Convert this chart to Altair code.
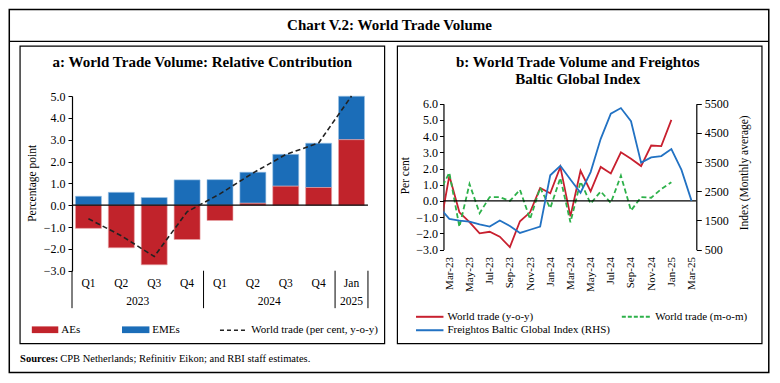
import altair as alt
import pandas as pd

# ---------------- data ----------------
# Panel a: World Trade Volume: Relative Contribution (percentage point)
quarters = ["Q1", "Q2", "Q3", "Q4", "Q1", "Q2", "Q3", "Q4", "Jan"]
quarter_year = ["2023", "2023", "2023", "2023", "2024", "2024", "2024", "2024", "2025"]
aes = [-1.06, -1.95, -2.73, -1.57, -0.70, 0.09, 0.87, 0.81, 3.00]
emes = [0.41, 0.59, 0.35, 1.16, 1.17, 1.42, 1.46, 2.03, 1.99]
world_yoy_q = [-0.62, -1.40, -2.35, -0.30, 0.52, 1.47, 2.32, 2.85, 5.00]

# Panel b: World trade volume (per cent) and Freightos Baltic Global Index
months = ["Feb-23", "Mar-23", "Apr-23", "May-23", "Jun-23", "Jul-23", "Aug-23",
          "Sep-23", "Oct-23", "Nov-23", "Dec-23", "Jan-24", "Feb-24", "Mar-24",
          "Apr-24", "May-24", "Jun-24", "Jul-24", "Aug-24", "Sep-24", "Oct-24",
          "Nov-24", "Dec-24", "Jan-25", "Feb-25", "Mar-25"]
wt_yoy = [-1.90, 1.55, -0.70, -1.30, -2.00, -1.90, -2.20, -2.85, -1.25, -0.70,
          0.80, 0.47, 2.10, -0.95, 1.86, 0.59, 2.10, 1.70, 3.00, 2.60, 2.15,
          3.42, 3.38, 5.00]
wt_mom = [0.50, 1.75, -1.60, 1.05, -0.75, 0.24, 0.24, 0.00, 0.69, -1.12, 0.82,
          -0.45, 1.42, -1.32, 1.19, -0.16, 0.59, -0.12, 1.56, -0.59, 0.24, 0.20,
          0.73, 1.15]
fbx = [1950, 1550, 1495, 1455, 1365, 1290, 1495, 1310, 1070, 1180, 1290, 3045,
       3373, 2900, 2450, 3155, 4295, 5155, 5350, 4900, 3480, 3660, 3705, 3945,
       3230, 2170]

# ---------------- styling / layout ----------------
FONT = "Liberation Serif"
RED = "#C1232B"
BLUE = "#1B6DB8"
LRED = "#C8202F"
LBLUE = "#2272C3"
GREEN = "#2DB14A"
TICK_FS = 12
SX, SY = 0.98, 0.96


def X(x):
    return SX * x


def Y(y):
    return SY * y


# plot areas (reference pixel coords)
A_L, A_R, A_T, A_B = 66, 368, 92, 274
B_L, B_R, B_T, B_B = 445, 703, 100, 252
W1 = X(A_R) - X(A_L)
H1 = Y(A_B) - Y(A_T)
W2 = X(B_R) - X(B_L)
H2 = Y(B_B) - Y(A_T)


def lx(x):
    return X(x) - X(A_L)


def rx(x):
    return X(x) - X(B_L)


def yy(y):
    return Y(y) - Y(A_T)


one = pd.DataFrame({"k": [0]})


def txt(s, x, y, size=11, weight="normal", align="left", angle=0, baseline="middle"):
    return alt.Chart(one).mark_text(
        text=s, align=align, baseline=baseline, fontSize=size, fontWeight=weight,
        font=FONT, angle=angle, color="black"
    ).encode(x=alt.value(x), y=alt.value(y))


def box(x0, x1, y0, y1, width=1.0):
    return alt.Chart(one).mark_rect(
        fillOpacity=0, stroke="black", strokeWidth=width
    ).encode(x=alt.value(x0), x2=alt.value(x1), y=alt.value(y0), y2=alt.value(y1))


def hline(x0, x1, y, color="black", width=1.0, dash=None):
    kw = dict(color=color, strokeWidth=width)
    if dash:
        kw["strokeDash"] = dash
    return alt.Chart(one).mark_rule(**kw).encode(
        x=alt.value(x0), x2=alt.value(x1), y=alt.value(y))


def swatch(x0, x1, y0, y1, color):
    return alt.Chart(one).mark_rect(color=color).encode(
        x=alt.value(x0), x2=alt.value(x1), y=alt.value(y0), y2=alt.value(y1))


# ---------------- panel a ----------------
dfa = pd.DataFrame({"i": range(len(quarters)), "q": quarters, "yr": quarter_year,
                    "ae": aes, "eme": emes, "wt": world_yoy_q})
dfa["c"] = dfa["i"] + 0.5
dfa["x0"] = dfa["i"] + 0.105
dfa["x1"] = dfa["i"] + 0.895
dfa["zero"] = 0.0
dfa["eme0"] = dfa["ae"].clip(lower=0)
dfa["eme1"] = dfa["eme0"] + dfa["eme"]

grp = dfa.groupby("yr", sort=False)["i"].agg(["min", "max"]).reset_index()
grp["start"] = grp["min"]
grp["end"] = grp["max"] + 1
grp["mid"] = (grp["start"] + grp["end"]) / 2
seps = pd.DataFrame({"b": sorted(set(grp["start"]).union(set(grp["end"])))})

xa = alt.Scale(domain=[0, len(quarters)], nice=False, zero=False)
ya = alt.Scale(domain=[-3, 5], nice=False)

axis_a = alt.Axis(values=list(range(-3, 6)), format=".1f", title=None, tickSize=4,
                  labelPadding=3, domainColor="black", tickColor="black",
                  labelFont=FONT, labelFontSize=TICK_FS, labelColor="black", grid=False,
                  domainWidth=1.2, tickWidth=1)

eme_bars = alt.Chart(dfa).mark_rect(color=BLUE, stroke="#9cc3e6", strokeWidth=0.6).encode(
    x=alt.X("x0:Q", scale=xa, axis=None), x2="x1",
    y=alt.Y("eme0:Q", scale=ya, axis=axis_a), y2="eme1")
ae_bars = alt.Chart(dfa).mark_rect(color=RED, stroke="#e8a4a8", strokeWidth=0.6).encode(
    x=alt.X("x0:Q", scale=xa, axis=None), x2="x1",
    y=alt.Y("zero:Q", scale=ya, axis=axis_a), y2="ae")
zero_a = alt.Chart(one).mark_rule(color="black", strokeWidth=1.3).encode(
    x=alt.value(0), x2=alt.value(W1),
    y=alt.Y(datum=0, type="quantitative", scale=ya, axis=axis_a))
wt_line = alt.Chart(dfa).mark_line(color="#222222", strokeDash=[5, 3], strokeWidth=1.6).encode(
    x=alt.X("c:Q", scale=xa, axis=None), y=alt.Y("wt:Q", scale=ya, axis=axis_a))
q_labels = alt.Chart(dfa).mark_text(fontSize=11.5, font=FONT, color="black", baseline="middle").encode(
    x=alt.X("c:Q", scale=xa, axis=None), y=alt.value(yy(288)), text="q:N")
yr_labels = alt.Chart(grp).mark_text(fontSize=11.5, font=FONT, color="black", baseline="middle").encode(
    x=alt.X("mid:Q", scale=xa, axis=None), y=alt.value(yy(307)), text="yr:N")
sep_rules = alt.Chart(seps).mark_rule(color="black", strokeWidth=1).encode(
    x=alt.X("b:Q", scale=xa, axis=None), y=alt.value(yy(274)), y2=alt.value(yy(313)))

deco_a = [
    box(lx(2), lx(777), yy(2), yy(380), 1.5),
    txt("Chart V.2: World Trade Volume", lx(390), yy(18), 15, "bold", "center"),
    hline(lx(2), lx(777), yy(35), width=1.2),
    box(lx(13), lx(385), yy(40), yy(350), 1.2),
    txt("a: World Trade Volume: Relative Contribution", lx(199), yy(57), 15, "bold", "center"),
    txt("Percentage point", lx(26), yy(183), 11.5, "normal", "center", 270),
    swatch(lx(25), lx(52), yy(332), yy(339), RED),
    txt("AEs", lx(55), yy(336), 11),
    swatch(lx(117), lx(145), yy(332), yy(339), BLUE),
    txt("EMEs", lx(148), yy(336), 11),
    hline(lx(217), lx(245), yy(336), color="#222222", width=1.6, dash=[4, 3]),
    txt("World trade (per cent, y-o-y)", lx(249), yy(336), 11),
    txt("Sources:", lx(13), yy(366), 10.5, "bold"),
    txt("CPB Netherlands; Refinitiv Eikon; and RBI staff estimates.", lx(54), yy(366), 10.5),
]

panel_a = alt.layer(eme_bars, ae_bars, zero_a, wt_line, q_labels, yr_labels, sep_rules,
                    *deco_a).properties(width=W1, height=H1)

# ---------------- panel b ----------------
dfb = pd.DataFrame({"m": range(len(months)), "fbx": fbx})
dfy = pd.DataFrame({"m": range(len(wt_yoy)), "yoy": wt_yoy, "mom": wt_mom})

xb = alt.Scale(domain=[0.42, 25.47], nice=False, zero=False)
yb = alt.Scale(domain=[-3, 6], nice=False, range=[H2, yy(B_T)])
yb2 = alt.Scale(domain=[500, 5500], nice=False, range=[H2, yy(B_T)])

label_arr = "[" + ",".join("'%s'" % m for m in months) + "]"
x_axis_b = alt.Axis(values=list(range(1, len(months), 2)), labelExpr=label_arr + "[datum.value]",
                    labelAngle=270, domain=False, ticks=False, labelPadding=7, grid=False,
                    title=None, labelFont=FONT, labelFontSize=11, labelColor="black")
y_axis_b = alt.Axis(values=list(range(-3, 7)), format=".1f", title=None, tickSize=4,
                    labelPadding=2, domainColor="black", tickColor="black", grid=False,
                    labelFont=FONT, labelFontSize=TICK_FS, labelColor="black", domainWidth=1.2)
y_axis_b2 = alt.Axis(values=list(range(500, 5501, 1000)), format="d", title=None, tickSize=5,
                     labelPadding=3, domainColor="black", tickColor="black", grid=False,
                     labelFont=FONT, labelFontSize=TICK_FS, labelColor="black", orient="right",
                     domainWidth=1.2)

yoy_line = alt.Chart(dfy).mark_line(color=LRED, strokeWidth=1.8, clip=True).encode(
    x=alt.X("m:Q", scale=xb, axis=x_axis_b), y=alt.Y("yoy:Q", scale=yb, axis=y_axis_b))
mom_line = alt.Chart(dfy).mark_line(color=GREEN, strokeWidth=1.8, strokeDash=[5, 3], clip=True).encode(
    x=alt.X("m:Q", scale=xb, axis=x_axis_b), y=alt.Y("mom:Q", scale=yb, axis=y_axis_b))
zero_b = alt.Chart(one).mark_rule(color="black", strokeWidth=1.3).encode(
    x=alt.value(0), x2=alt.value(W2),
    y=alt.Y(datum=0, type="quantitative", scale=yb, axis=y_axis_b))

deco_b = [
    box(rx(398), rx(770), yy(40), yy(350), 1.2),
    txt("b: World Trade Volume and Freightos", rx(582), yy(57), 15, "bold", "center"),
    txt("Baltic Global Index", rx(582), yy(74), 15, "bold", "center"),
    txt("Per cent", rx(407), yy(175), 11.5, "normal", "center", 270),
    txt("Index (Monthly average)", rx(753), yy(172), 11.5, "normal", "center", 270),
    hline(rx(417), rx(445), yy(322), color=LRED, width=2),
    txt("World trade (y-o-y)", rx(449), yy(322), 11),
    hline(rx(627), rx(657), yy(322), color=GREEN, width=2, dash=[4, 2]),
    txt("World trade (m-o-m)", rx(661), yy(322), 11),
    hline(rx(417), rx(445), yy(336), color=LBLUE, width=2),
    txt("Freightos Baltic Global Index (RHS)", rx(449), yy(336), 11),
]

left_b = alt.layer(yoy_line, mom_line, zero_b, *deco_b)
fbx_line = alt.Chart(dfb).mark_line(color=LBLUE, strokeWidth=1.8, clip=True).encode(
    x=alt.X("m:Q", scale=xb, axis=x_axis_b), y=alt.Y("fbx:Q", scale=yb2, axis=y_axis_b2))

panel_b = alt.layer(left_b, fbx_line).resolve_scale(y="independent").properties(width=W2, height=H2)

chart = alt.hconcat(panel_a, panel_b, spacing=X(B_L) - X(A_R), bounds="flush").properties(
    padding=0, background="white"
).configure_view(stroke=None)

chart.save("out.html", embed_options={"renderer": "svg", "actions": False})
